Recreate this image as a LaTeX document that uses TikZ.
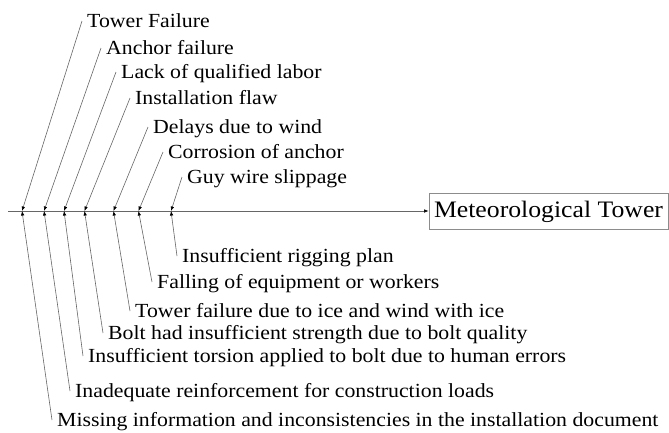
\documentclass[tikz,border=0pt]{standalone}
\usepackage{fontspec}
\setmainfont{Liberation Serif}[FakeStretch=1.09]
\usetikzlibrary{arrows.meta}
\begin{document}
\begin{tikzpicture}[x=1pt,y=-1pt,
  lbl/.style={anchor=base west,inner xsep=5pt,inner ysep=0pt,text height=15pt,text depth=3pt,font=\fontsize{20}{24}\selectfont},
  conn/.style={draw=black!60,line width=0.6pt,-{Latex[length=4.5pt,width=3.5pt,black]}},
  title/.style={draw=black!45,line width=0.8pt,minimum width=239pt,minimum height=36pt,inner sep=0pt,text height=17pt,text depth=5pt,font=\fontsize{23.6}{28}\selectfont}]
\useasboundingbox (0,0) rectangle (669,432);
% spine
\coordinate (tail) at (8,211);
\node[title] (box) at (548.5,211) {Meteorological Tower};
\draw[conn] (tail) -- (box.west);
\foreach \i/\x in {1/22,2/44,3/64,4/84.5,5/113.5,6/138.5,7/171}
  \coordinate (s\i) at (\x,211);
% upper labels
\node[lbl] (u1) at (82,27) {Tower Failure};
\node[lbl] (u2) at (101,54) {Anchor failure};
\node[lbl] (u3) at (116,78) {Lack of qualified labor};
\node[lbl] (u4) at (130,104) {Installation flaw};
\node[lbl] (u5) at (148,133) {Delays due to wind};
\node[lbl] (u6) at (163,158) {Corrosion of anchor};
\node[lbl] (u7) at (182,183) {Guy wire slippage};
% lower labels
\node[lbl] (l7) at (177,262) {Insufficient rigging plan};
\node[lbl] (l6) at (152,288) {Falling of equipment or workers};
\node[lbl] (l5) at (130,317) {Tower failure due to ice and wind with ice};
\node[lbl] (l4) at (103,339) {Bolt had insufficient strength due to bolt quality};
\node[lbl] (l3) at (83,362) {Insufficient torsion applied to bolt due to human errors};
\node[lbl] (l2) at (70,397) {Inadequate reinforcement for construction loads};
\node[lbl] (l1) at (52,426) {Missing information and inconsistencies in the installation document};
% connectors
\foreach \i in {1,...,7} {
  \draw[conn] (u\i.west) -- (s\i);
  \draw[conn] (l\i.west) -- (s\i);
}
\end{tikzpicture}
\end{document}
